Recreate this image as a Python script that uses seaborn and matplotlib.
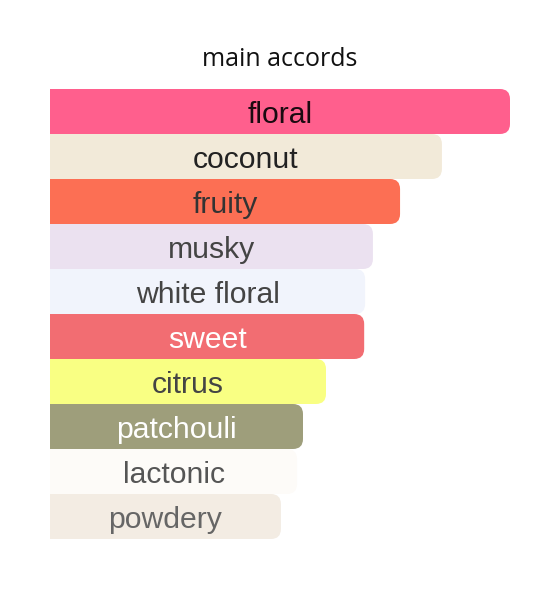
import matplotlib
matplotlib.use("Agg")
import matplotlib.pyplot as plt
import seaborn as sns
import pandas as pd
from matplotlib.patches import FancyBboxPatch

accords = ["floral", "coconut", "fruity", "musky", "white floral", "sweet",
           "citrus", "patchouli", "lactonic", "powdery"]
values = [100, 85.2, 76.1, 70.2, 68.5, 68.3, 60.0, 55.0, 53.7, 50.2]
bar_colors = ["#FF5F8D", "#F2EAD9", "#FC6F54", "#EBE1F0", "#F1F4FC", "#F26D72",
              "#F9FF83", "#9E9E7B", "#FDFBF8", "#F3ECE3"]
text_colors = ["#1a0a10", "#222222", "#333333", "#444444", "#444444", "#ffffff",
               "#444444", "#ffffff", "#555555", "#666666"]
title = "main accords"

sns.set_theme(style="white")
plt.rcParams['font.family'] = ['Liberation Sans', 'DejaVu Sans']

W, H = 547, 597
fig = plt.figure(figsize=(W / 100, H / 100), dpi=100)
ax_left, ax_right = 50, 547
ax_top, ax_bottom = 89, 539
ax = fig.add_axes([ax_left / W, 1 - ax_bottom / H, (ax_right - ax_left) / W, (ax_bottom - ax_top) / H])

df = pd.DataFrame({"accord": accords, "value": values})
sns.barplot(data=df, x="value", y="accord", hue="accord", palette=bar_colors,
            legend=False, width=1.0, ax=ax, saturation=1)

xmax = 100 * (ax_right - ax_left) / 460
ax.set_xlim(0, xmax)
ax.set_ylim(len(accords) - 0.5, -0.5)
xpp = xmax / (ax_right - ax_left)
ypp = len(accords) / (ax_bottom - ax_top)
r_px = 10

patches = list(ax.patches)
for p, col in zip(patches, bar_colors):
    x, y, w, h = p.get_x(), p.get_y(), p.get_width(), p.get_height()
    p.remove()
    fb = FancyBboxPatch((x - 5, y), w + 5, h,
                        boxstyle=f"round,pad=0,rounding_size={r_px * xpp}",
                        mutation_aspect=ypp / xpp,
                        facecolor=col, edgecolor="none")
    ax.add_patch(fb)

for i, (lab, v, tc) in enumerate(zip(accords, values, text_colors)):
    ax.text(v / 2, i + 0.08, lab, ha="center", va="center", fontsize=21.7, color=tc)

ax.set_axis_off()
fig.text(280 / W, 1 - 59 / H, title, ha="center", va="center", fontsize=18,
         color="#111111", family=["Open Sans", "DejaVu Sans"])

fig.savefig("out.png", dpi=100, facecolor="white")
